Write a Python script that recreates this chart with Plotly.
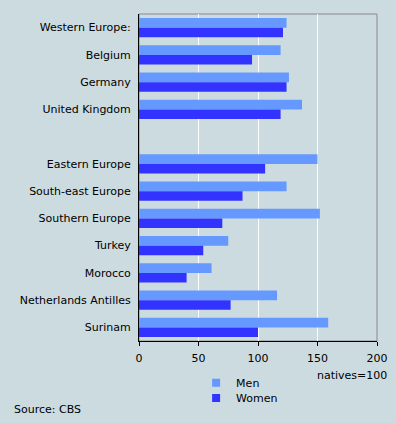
import plotly.graph_objects as go

categories = ["Western Europe:", "Belgium", "Germany", "United Kingdom", " ",
              "Eastern Europe", "South-east Europe", "Southern Europe", "Turkey",
              "Morocco", "Netherlands Antilles", "Surinam"]
men = [124, 119, 126, 137, None, 150, 124, 152, 75, 61, 116, 159]
women = [121, 95, 124, 119, None, 106, 87, 70, 54, 40, 77, 100]
x_ticks = [0, 50, 100, 150, 200]

BG = "rgb(204,219,224)"
MEN_C = "#6699FF"
WOMEN_C = "#3333FF"
FONT = dict(family="DejaVu Sans", size=11, color="black")

fig = go.Figure()
fig.add_trace(go.Bar(y=categories, x=men, orientation="h", marker=dict(color=MEN_C, line=dict(width=0)),
                     name="Men", showlegend=False))
fig.add_trace(go.Bar(y=categories, x=women, orientation="h", marker=dict(color=WOMEN_C, line=dict(width=0)),
                     name="Women", showlegend=False))
fig.add_trace(go.Scatter(x=[None], y=[None], mode="markers", name="Men", legend="legend",
                         marker=dict(symbol="square", size=8, color=MEN_C)))
fig.add_trace(go.Scatter(x=[None], y=[None], mode="markers", name="Women", legend="legend2",
                         marker=dict(symbol="square", size=8, color=WOMEN_C)))

leg = dict(x=0.24, xanchor="left", yanchor="middle", bgcolor="rgba(0,0,0,0)", font=FONT,
           itemwidth=30, borderwidth=0)
fig.update_layout(
    width=396, height=423,
    margin=dict(l=139, r=19, t=14, b=82, pad=0, autoexpand=False),
    paper_bgcolor=BG, plot_bgcolor=BG,
    font=FONT,
    barmode="group", bargap=0.30, bargroupgap=0,
    legend=dict(leg, y=-0.128),
    legend2=dict(leg, y=-0.174),
    shapes=[dict(type="rect", xref="paper", yref="paper", x0=0, x1=1, y0=0, y1=1,
                 line=dict(color="#888888", width=1), layer="below")],
    annotations=[
        dict(text="natives=100", xref="paper", yref="paper", x=1, xshift=12, y=-0.107,
             xanchor="right", yanchor="middle", showarrow=False, font=FONT),
        dict(text="Source: CBS", xref="paper", yref="paper", x=-0.533, y=-0.208,
             xanchor="left", yanchor="middle", showarrow=False, font=FONT),
    ],
)
fig.update_xaxes(range=[0, 200], tickvals=x_ticks, showgrid=True, gridcolor="white", gridwidth=1,
                 zeroline=False, showline=True, linecolor="black", linewidth=1,
                 ticks="outside", ticklen=4, tickcolor="black", fixedrange=True,
                 ticklabelstandoff=3)
fig.update_yaxes(type="category", categoryorder="array", categoryarray=categories,
                 autorange="reversed", showgrid=False, zeroline=False, fixedrange=True,
                 showline=True, linecolor="black", linewidth=1, ticks="", ticklabelstandoff=5)

fig.write_html("out.html", config={"displayModeBar": False},
               post_script="document.body.style.margin='0';document.body.style.overflow='hidden';")
